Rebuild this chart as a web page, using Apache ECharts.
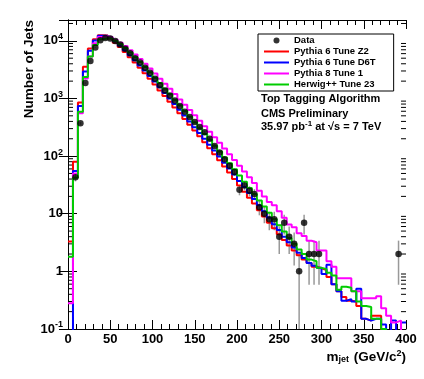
<!DOCTYPE html>
<html>
<head>
<meta charset="utf-8">
<script src="https://cdn.jsdelivr.net/npm/echarts@6/dist/echarts.min.js"></script>
<style>
	html, body { margin: 0; padding: 0; background: #fff; }
	#chart { width: 424px; height: 379px; }
</style>
</head>
<body>
<div id="chart"></div>
<script>
	// binning of the jet mass histogram
	const nBins = 68
	const xMax = 400
	const yMin = 0.1
	const yMax = 23000

	// observed jets per bin (null = no entry)
	const dataCounts = [null, 43, 370, 1850, 4470, 7700, 10200, 11200, 11000, 9900,
		8600, 7300, 6100, 5000, 4200, 3400, 2800, 2200, 1700, 1380,
		1130, 920, 740, 590, 475, 390, 320, 260, 200, 150,
		115, 88, 68, 53, 26, 31, 25, 22, 13, 10,
		8, 8, 4, 7, 4, 3, 1, 7, 2, 2,
		2, null, null, null, null, null, null, null, null, null,
		null, null, null, null, null, null, 2, null]

	const pythia6Z2 = [3.3, 80, 850, 3550, 7400, 10700, 12500, 12400, 11000, 9300,
		7800, 6400, 5200, 4200, 3400, 2750, 2200, 1750, 1380, 1100,
		880, 700, 555, 440, 350, 278, 220, 174, 137, 108,
		85, 66, 52, 40, 31, 24, 19, 15, 11.5, 9,
		7, 5.6, 4.4, 3.5, 2.8, 2.3, 1.9, 1.6, 1.4, 1.2,
		1.13, 1.05, 0.8, 0.6, 0.45, 0.36, 0.31, 0.3, 0.25, 0.15,
		0.14, 0.17, 0.17, 0, 0, 0, 0, 0]

	const pythia6D6T = [0, 55, 740, 2930, 6740, 10100, 12200, 12300, 11300, 9800,
		8300, 6900, 5650, 4600, 3750, 3050, 2450, 1970, 1570, 1250,
		1000, 800, 635, 505, 400, 318, 252, 200, 158, 125,
		98, 77, 61, 48, 37, 29, 23, 18, 14, 11,
		8.5, 6.6, 5.2, 4, 3.2, 2.6, 2.1, 1.7, 1.4, 1.25,
		1.15, 0.9, 1.3, 0.6, 0.45, 0.31, 0.33, 0.3, 0.5, 0.15,
		0.14, 0.15, 0.15, 0.12, 0, 0.14, 0, 0.13]

	const pythia8T1 = [0.28, 50, 555, 2220, 5350, 9100, 11700, 12000, 11500, 10500,
		9300, 8100, 6900, 5800, 4850, 4000, 3300, 2700, 2200, 1800,
		1470, 1190, 960, 780, 630, 510, 410, 330, 265, 212,
		170, 136, 108, 86, 68, 54, 43, 34, 25, 20,
		16, 14, 11, 8.5, 6.5, 5.8, 4.6, 4.1, 3.4, 3.2,
		2.3, 2.3, 1.5, 1.2, 0.76, 0.76, 0.76, 0.45, 0.45, 0.34,
		0.34, 0.34, 0.37, 0.23, 0.17, 0.13, 0.14, 0]

	const herwigT23 = [1.8, 42, 590, 2350, 5350, 8500, 10700, 11000, 11000, 10000,
		8800, 7500, 6300, 5200, 4300, 3500, 2850, 2300, 1850, 1480,
		1190, 950, 760, 605, 482, 384, 305, 242, 192, 152,
		120, 95, 75, 59, 46, 36, 28, 22, 17, 13.3,
		10.4, 8.1, 6.3, 4.9, 3.8, 3.0, 2.4, 2.0, 1.6, 1.5,
		1.15, 1.1, 0.95, 0.85, 0.48, 0.54, 0.52, 0.45, 0.3, 0.25,
		0.24, 0.15, 0.15, 0.1, 0, 0, 0, 0]

	// y axis decades and the minor multipliers between them
	const yDecades = [-1, 0, 1, 2, 3, 4]
	const minorSteps = [2, 3, 4, 5, 6, 7, 8, 9]

	const binWidth = xMax / nBins
	const logFloor = 0.001
	const FONT = 'Liberation Sans'

	const colors = {
		z2: '#ff0000',
		d6t: '#0000ff',
		p8: '#ff00ff',
		hw: '#00cc00'
	}

	// histogram bins -> step line points (left edges + closing edge)
	const toSteps = (values) => {
		const pts = values.map((v, i) => [i * binWidth, v > 0 ? v : logFloor])
		pts.push([xMax, pts[pts.length - 1][1]])
		return pts
	}

	const dataPoints = []
	const errorBars = []
	dataCounts.forEach((c, i) => {
		if (c === null) return
		const x = (i + 0.5) * binWidth
		const err = Math.sqrt(c)
		dataPoints.push([x, c])
		errorBars.push([x, Math.max(c - err, logFloor), c + err])
	})

	const minorTicks = []
	yDecades.forEach((e) => {
		minorSteps.forEach((m) => {
			const v = m * Math.pow(10, e)
			if (v < yMax) minorTicks.push([0, v])
		})
	})

	const histSeries = (name, values, color) => ({
		name: name,
		type: 'line',
		step: 'end',
		symbol: 'none',
		data: toSteps(values),
		lineStyle: { color: color, width: 2 },
		itemStyle: { color: color },
		clip: true,
		animation: false
	})

	const lineLegend = (name, color) => ({
		name: name,
		icon: 'line',
		itemStyle: { color: color, borderColor: color, borderWidth: 2 }
	})

	const yLabel = (v) => {
		const lg = Math.log10(v)
		const e = Math.round(lg)
		if (Math.abs(lg - e) > 0.01) return ''
		if (e === 0) return '1'
		if (e === 1) return '10'
		return '10{sup|' + e + '}'
	}

	const tickLabelStyle = {
		color: '#000',
		fontFamily: FONT,
		fontWeight: 'bold',
		fontSize: 13
	}

	const chart = echarts.init(document.getElementById('chart'))

	const option = {
		animation: false,
		backgroundColor: '#fff',
		grid: { left: 68, right: 18, top: 20, bottom: 50 },
		legend: {
			orient: 'vertical',
			left: 258,
			top: 34,
			padding: [1, 18, 1, 5],
			itemGap: 0,
			itemWidth: 25,
			itemHeight: 6,
			borderColor: '#000',
			borderWidth: 1,
			backgroundColor: '#fff',
			textStyle: {
				color: '#000',
				fontFamily: FONT,
				fontWeight: 'bold',
				fontSize: 9.5,
				lineHeight: 11
			},
			data: [
				{ name: 'Data', icon: 'circle' },
				lineLegend('Pythia 6 Tune Z2', colors.z2),
				lineLegend('Pythia 6 Tune D6T', colors.d6t),
				lineLegend('Pythia 8 Tune 1', colors.p8),
				lineLegend('Herwig++ Tune 23', colors.hw)
			]
		},
		xAxis: [
			{
				type: 'value',
				min: 0,
				max: xMax,
				interval: 50,
				axisLine: { lineStyle: { color: '#000', width: 1 } },
				axisTick: { inside: true, length: 9, lineStyle: { color: '#000' } },
				minorTick: { show: true, splitNumber: 5, length: 5, lineStyle: { color: '#000' } },
				splitLine: { show: false },
				axisLabel: Object.assign({ margin: 4 }, tickLabelStyle)
			},
			{
				type: 'value',
				position: 'top',
				min: 0,
				max: xMax,
				interval: 50,
				axisLine: { lineStyle: { color: '#000', width: 1 } },
				axisTick: { inside: true, length: 9, lineStyle: { color: '#000' } },
				minorTick: { show: true, splitNumber: 5, length: 5, lineStyle: { color: '#000' } },
				splitLine: { show: false },
				axisLabel: { show: false }
			}
		],
		yAxis: [
			{
				type: 'log',
				logBase: 10,
				min: yMin,
				max: yMax,
				axisLine: { show: true, lineStyle: { color: '#000', width: 1 } },
				axisTick: { show: true, inside: true, length: 9, lineStyle: { color: '#000' } },
				splitLine: { show: false },
				axisLabel: Object.assign({
					margin: 5,
					formatter: yLabel,
					rich: {
						sup: { fontFamily: FONT, fontWeight: 'bold', fontSize: 9, padding: [0, 0, 8, 0], color: '#000' }
					}
				}, tickLabelStyle)
			},
			{
				type: 'log',
				logBase: 10,
				position: 'right',
				min: yMin,
				max: yMax,
				axisLine: { show: true, lineStyle: { color: '#000', width: 1 } },
				axisTick: { show: true, inside: true, length: 9, lineStyle: { color: '#000' } },
				splitLine: { show: false },
				axisLabel: { show: false }
			}
		],
		series: [
			histSeries('Pythia 6 Tune Z2', pythia6Z2, colors.z2),
			histSeries('Pythia 6 Tune D6T', pythia6D6T, colors.d6t),
			histSeries('Pythia 8 Tune 1', pythia8T1, colors.p8),
			histSeries('Herwig++ Tune 23', herwigT23, colors.hw),
			{
				// log-axis minor ticks on both sides
				type: 'custom',
				silent: true,
				data: minorTicks,
				encode: { x: 0, y: 1 },
				renderItem: (params, api) => {
					const v = api.value(1)
					const l = api.coord([0, v])
					const r = api.coord([xMax, v])
					const s = { stroke: '#000', lineWidth: 1 }
					return {
						type: 'group',
						children: [
							{ type: 'line', shape: { x1: l[0], y1: l[1], x2: l[0] + 5, y2: l[1] }, style: s },
							{ type: 'line', shape: { x1: r[0] - 5, y1: r[1], x2: r[0], y2: r[1] }, style: s }
						]
					}
				}
			},
			{
				// statistical error bars of the data
				type: 'custom',
				silent: true,
				clip: true,
				data: errorBars,
				encode: { x: 0, y: [1, 2] },
				renderItem: (params, api) => {
					const lo = api.coord([api.value(0), api.value(1)])
					const hi = api.coord([api.value(0), api.value(2)])
					return {
						type: 'line',
						shape: { x1: lo[0], y1: lo[1], x2: hi[0], y2: hi[1] },
						style: { stroke: '#999999', lineWidth: 1.5 }
					}
				},
				z: 3
			},
			{
				name: 'Data',
				type: 'scatter',
				symbol: 'circle',
				symbolSize: 6.5,
				data: dataPoints,
				itemStyle: { color: '#000' },
				z: 4
			}
		],
		graphic: [
			{
				type: 'text',
				left: 22,
				top: 20,
				rotation: Math.PI / 2,
				style: {
					text: 'Number of Jets',
					fill: '#000',
					font: 'bold 13.5px "Liberation Sans"'
				}
			},
			{
				type: 'text',
				right: 18,
				top: 349,
				style: {
					text: 'm{sub|jet} (GeV/c{sup|2})',
					fill: '#000',
					font: 'bold 13.5px "Liberation Sans"',
					rich: {
						sub: { fontFamily: FONT, fontWeight: 'bold', fontSize: 9, padding: [6, 1, 0, 0], fill: '#000' },
						sup: { fontFamily: FONT, fontWeight: 'bold', fontSize: 9, padding: [0, 0, 7, 0], fill: '#000' }
					}
				}
			},
			{
				type: 'text',
				left: 261,
				top: 93,
				style: {
					text: 'Top Tagging Algorithm',
					fill: '#000',
					font: 'bold 11px "Liberation Sans"'
				}
			},
			{
				type: 'text',
				left: 261,
				top: 108,
				style: {
					text: 'CMS Preliminary',
					fill: '#000',
					font: 'bold 11px "Liberation Sans"'
				}
			},
			{
				type: 'text',
				left: 261,
				top: 120,
				style: {
					text: '35.97 pb{sup|-1} at √s = 7 TeV',
					fill: '#000',
					font: 'bold 11px "Liberation Sans"',
					rich: {
						sup: { fontFamily: FONT, fontWeight: 'bold', fontSize: 8, padding: [0, 0, 6, 0], fill: '#000' }
					}
				}
			}
		]
	}

	chart.setOption(option)

	window.addEventListener('resize', () => {
		chart.resize()
	})
</script>
</body>
</html>
